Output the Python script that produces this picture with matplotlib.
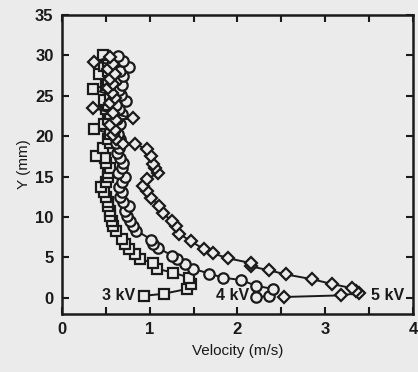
import matplotlib.pyplot as plt
from matplotlib.ticker import MultipleLocator, FuncFormatter

# 3 kV (squares), from the bottom up
y3 = [0.25, 0.5, 1.1, 1.7, 2.5, 3.1, 3.6, 4.3, 4.8, 5.4, 6.0, 6.7, 7.3, 8.3, 8.9,
      9.5, 10.1, 10.7, 11.3, 11.9, 12.5, 13.1, 13.7, 14.3, 14.9, 15.5, 16.1, 16.7,
      17.3, 17.6, 18.5, 19.1, 19.7, 20.3, 20.9, 21.5, 22.1, 22.7, 23.3, 23.9, 24.5,
      25.1, 25.8, 26.3, 26.9, 27.7, 28.1, 28.7, 29.3, 30.0]
v3 = [0.94, 1.16, 1.43, 1.47, 1.45, 1.27, 1.08, 1.04, 0.89, 0.83, 0.77, 0.72, 0.68,
      0.62, 0.58, 0.57, 0.55, 0.55, 0.53, 0.52, 0.50, 0.48, 0.45, 0.50, 0.53, 0.52,
      0.55, 0.50, 0.49, 0.39, 0.47, 0.55, 0.53, 0.55, 0.37, 0.48, 0.52, 0.55, 0.50,
      0.52, 0.48, 0.55, 0.35, 0.50, 0.53, 0.42, 0.52, 0.48, 0.52, 0.47]

# 4 kV (circles)
y4 = [0.1, 0.2, 1.1, 1.5, 2.2, 2.5, 3.0, 3.6, 4.2, 4.8, 5.2, 6.2, 6.7, 7.2, 8.3,
      8.9, 9.5, 10.1, 10.7, 11.3, 11.9, 12.5, 13.1, 13.7, 14.3, 14.9, 15.5, 16.1,
      16.7, 17.3, 17.9, 18.5, 19.1, 19.7, 20.3, 20.9, 21.5, 22.1, 22.7, 23.3, 23.9,
      24.3, 25.1, 25.7, 26.3, 26.9, 27.5, 28.1, 28.6, 29.3, 29.9]
v4 = [2.21, 2.36, 2.40, 2.21, 2.04, 1.83, 1.68, 1.49, 1.40, 1.31, 1.26, 1.09, 1.04,
      1.02, 0.85, 0.81, 0.78, 0.74, 0.72, 0.77, 0.70, 0.66, 0.68, 0.65, 0.68, 0.72,
      0.64, 0.68, 0.70, 0.66, 0.63, 0.65, 0.62, 0.66, 0.64, 0.60, 0.66, 0.63, 0.68,
      0.65, 0.62, 0.73, 0.67, 0.65, 0.68, 0.62, 0.70, 0.66, 0.77, 0.70, 0.64]

# 5 kV (diamonds)
y5 = [0.1, 0.3, 0.6, 0.9, 1.2, 1.7, 2.3, 2.9, 3.4, 3.9, 4.3, 4.9, 5.5, 6.0, 7.0,
      7.9, 8.9, 9.5, 10.5, 11.4, 12.3, 13.2, 13.8, 14.7, 15.4, 16.0, 16.5, 17.5,
      18.4, 19.0, 19.0, 19.6, 20.2, 20.8, 21.4, 22.0, 22.2, 22.8, 23.5, 24.1, 24.7,
      25.3, 25.9, 26.5, 27.1, 27.7, 28.3, 28.9, 29.2, 29.8]
v5 = [2.53, 3.18, 3.39, 3.35, 3.30, 3.08, 2.85, 2.55, 2.36, 2.15, 2.15, 1.89, 1.72,
      1.62, 1.47, 1.34, 1.30, 1.25, 1.15, 1.11, 1.02, 0.97, 0.92, 0.97, 1.09, 1.06,
      1.04, 1.02, 0.97, 0.83, 0.70, 0.62, 0.58, 0.60, 0.55, 0.62, 0.81, 0.58, 0.36,
      0.55, 0.60, 0.57, 0.52, 0.58, 0.55, 0.60, 0.52, 0.58, 0.37, 0.55]

bg = '#ebebeb'
ink = '#1a1a1a'
plt.rcParams['font.family'] = ['Liberation Sans', 'DejaVu Sans']
plt.rcParams['font.weight'] = 'bold'

fig = plt.figure(figsize=(4.18, 3.72), dpi=100, facecolor=bg)
ax = fig.add_axes([0.148, 0.156, 0.840, 0.804], facecolor=bg)

style = dict(color=ink, lw=1.4, markeredgecolor=ink, markerfacecolor=bg,
             markeredgewidth=1.6)
ax.plot(v3, y3, marker='s', ms=7, **style)
ax.plot(v4, y4, marker='o', ms=7.5, **style)
ax.plot(v5, y5, marker='D', ms=6, **style)

ax.text(0.83, 0.3, '3 kV', ha='right', va='center', fontsize=11.5, color=ink)
ax.text(2.13, 0.3, '4 kV', ha='right', va='center', fontsize=11.5, color=ink)
ax.text(3.52, 0.3, '5 kV', ha='left', va='center', fontsize=11.5, color=ink)

ax.set_xlim(0, 4)
ax.set_ylim(-2, 35)
ax.xaxis.set_major_locator(MultipleLocator(0.5))
ax.xaxis.set_major_formatter(FuncFormatter(lambda v, p: '%d' % v if v == int(v) else ''))
ax.yaxis.set_major_locator(MultipleLocator(5))
ax.tick_params(direction='in', length=5, width=1.5, top=True, right=True,
               labelsize=12, colors=ink, pad=6)
for s in ax.spines.values():
    s.set_linewidth(1.8)
    s.set_color(ink)

ax.set_xlabel('Velocity (m/s)', fontsize=11, color=ink, labelpad=5)
ax.set_ylabel('Y (mm)', fontsize=11, color=ink, labelpad=3)

fig.savefig('out.png', dpi=100, facecolor=bg)
